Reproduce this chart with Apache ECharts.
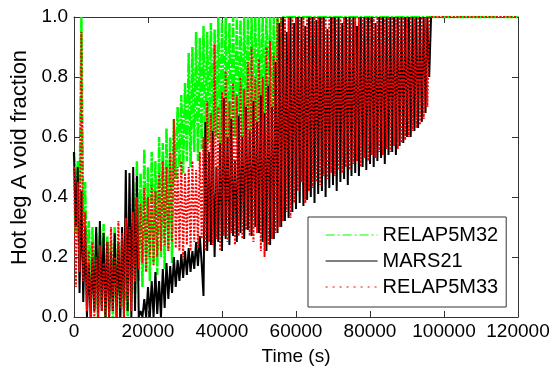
<!DOCTYPE html>
<html>
<head>
<meta charset="utf-8">
<script src="https://cdn.jsdelivr.net/npm/echarts@6/dist/echarts.min.js"></script>
<style>
html,body{margin:0;padding:0;background:#fff;}
#chart{width:554px;height:381px;}
</style>
</head>
<body>
<div id="chart"></div>
<script>
// Sample times (s)
const sampleTimes = [
0,500,1000,1500,2000,2500,3000,3500,4000,4500,
5000,5500,6000,6500,7000,7500,8000,8500,9000,9500,
10000,10500,11000,11500,12000,12500,13000,13500,14000,14500,
15000,15500,16000,16500,17000,17500,18000,18500,19000,19500,
20000,20500,21000,21500,22000,22500,23000,23500,24000,24500,
25000,25500,26000,26500,27000,27500,28000,28500,29000,29500,
30000,30500,31000,31500,32000,32500,33000,33500,34000,34500,
35000,35500,36000,36500,37000,37500,38000,38500,39000,39500,
40000,40500,41000,41500,42000,42500,43000,43500,44000,44500,
45000,45500,46000,46500,47000,47500,48000,48500,49000,49500,
50000,50500,51000,51500,52000,52500,53000,53500,54000,54500,
55000,55500,56000,56500,57000,57500,58000,58500,59000,59500,
60000,60500,61000,61500,62000,62500,63000,63500,64000,64500,
65000,65500,66000,66500,67000,67500,68000,68500,69000,69500,
70000,70500,71000,71500,72000,72500,73000,73500,74000,74500,
75000,75500,76000,76500,77000,77500,78000,78500,79000,79500,
80000,80500,81000,81500,82000,82500,83000,83500,84000,84500,
85000,85500,86000,86500,87000,87500,88000,88500,89000,89500,
90000,90500,91000,91500,92000,92500,93000,93500,94000,94500,
95000,95500,96000
];

// RELAP5M32 void fraction
const relap32Values = [
0.55,0.28,0.52,0.35,1.0,0.3,0.45,0.12,0.32,0.05,
0.3,0.02,0.28,0.0,0.3,0.04,0.31,0.0,0.27,0.02,
0.25,0.0,0.3,0.05,0.22,0.0,0.26,0.03,0.2,0.0,
0.28,0.05,0.45,0.08,0.52,0.12,0.48,0.1,0.56,0.15,
0.5,0.12,0.55,0.18,0.52,0.14,0.6,0.2,0.58,0.16,
0.63,0.22,0.6,0.18,0.66,0.46,0.7,0.5,0.74,0.48,
0.78,0.52,0.88,0.5,0.9,0.55,0.95,0.52,0.93,0.56,
0.97,0.54,0.95,0.58,0.98,0.55,0.96,0.6,1.0,0.57,
0.99,0.6,1.0,0.58,0.98,0.62,1.0,0.6,1.0,0.63,
0.99,0.6,1.0,0.65,1.0,0.62,1.0,0.66,1.0,0.64,
1.0,0.68,1.0,0.66,1.0,0.7,1.0,0.68,1.0,0.72,
1.0,0.75,1.0,1.0
];
const relap32TailTimes = [120000];
const relap32TailValues = [1.0];

// MARS21 void fraction
const mars21Values = [
0.55,0.3,0.5,0.08,0.42,0.05,0.3,0.0,0.18,0.0,
0.2,0.02,0.3,0.0,0.32,0.02,0.28,0.0,0.25,0.0,
0.22,0.02,0.28,0.0,0.25,0.0,0.3,0.0,0.49,0.02,
0.48,0.0,0.5,0.02,0.47,0.0,0.02,0.0,0.06,0.0,
0.1,0.0,0.12,0.0,0.15,0.01,0.12,0.0,0.16,0.03,
0.18,0.06,0.17,0.08,0.2,0.1,0.19,0.12,0.21,0.13,
0.22,0.14,0.23,0.15,0.22,0.16,0.25,0.17,0.27,0.18,
0.07,0.65,0.22,0.55,0.24,0.62,0.2,0.5,0.25,0.58,
0.22,0.73,0.26,0.6,0.24,0.66,0.27,0.52,0.25,0.67,
0.28,0.6,0.26,0.7,0.29,0.62,0.27,0.72,0.3,0.65,
0.28,0.74,0.25,0.68,0.22,0.77,0.24,0.7,0.26,0.85,
0.28,0.98,0.3,1.0,0.32,0.95,0.33,1.0,0.35,0.98,
0.36,1.0,0.38,1.0,0.37,0.97,0.39,1.0,0.4,1.0,
0.38,0.99,0.41,1.0,0.42,1.0,0.4,0.96,0.43,1.0,
0.44,1.0,0.42,1.0,0.45,0.98,0.46,1.0,0.44,1.0,
0.47,1.0,0.48,0.97,0.47,1.0,0.5,1.0,0.49,1.0,
0.51,1.0,0.5,0.98,0.52,1.0,0.53,1.0,0.51,1.0,
0.54,1.0,0.55,1.0,0.54,1.0,0.57,1.0,0.58,1.0,
0.6,1.0,0.6,1.0,0.62,1.0,0.63,1.0,0.65,1.0,
0.68,1.0,0.8
];
const mars21TailTimes = [96500];
const mars21TailValues = [1.0];

// RELAP5M33 void fraction
const relap33Values = [
0.5,0.1,0.45,0.15,0.95,0.12,0.35,0.02,0.22,0.0,
0.25,0.0,0.2,0.0,0.24,0.02,0.18,0.0,0.25,0.0,
0.3,0.02,0.2,0.0,0.32,0.03,0.28,0.0,0.33,0.05,
0.3,0.02,0.35,0.12,0.4,0.16,0.38,0.18,0.43,0.15,
0.4,0.2,0.44,0.17,0.42,0.2,0.48,0.22,0.52,0.24,
0.5,0.22,0.55,0.25,0.66,0.23,0.5,0.22,0.52,0.2,
0.48,0.24,0.5,0.22,0.52,0.25,0.49,0.23,0.55,0.26,
0.6,0.22,0.72,0.25,0.68,0.24,0.91,0.26,0.7,0.22,
0.75,0.27,0.82,0.25,0.72,0.28,0.78,0.24,0.74,0.27,
0.8,0.26,0.76,0.29,0.85,0.27,0.9,0.25,0.8,0.28,
0.86,0.22,0.8,0.2,0.9,0.24,0.92,0.26,0.88,0.28,
1.0,0.3,1.0,0.32,1.0,0.35,1.0,0.33,1.0,0.38,
1.0,0.42,1.0,0.45,1.0,0.38,1.0,0.42,1.0,0.43,
1.0,0.45,1.0,0.44,1.0,0.47,1.0,0.46,1.0,0.48,
1.0,0.47,1.0,0.49,1.0,0.48,1.0,0.5,1.0,0.49,
1.0,0.51,1.0,0.52,1.0,0.5,1.0,0.53,1.0,0.52,
1.0,0.54,1.0,0.53,1.0,0.55,1.0,0.54,1.0,0.56,
1.0,0.55,1.0,0.57,1.0,0.56,1.0,0.58,1.0,0.59,
1.0,0.6,1.0,0.62,1.0,0.63,1.0,0.64,1.0,0.66,
1.0,0.7,1.0
];
const relap33TailTimes = [120000];
const relap33TailValues = [1.0];

const seriesNames = ['RELAP5M32', 'MARS21', 'RELAP5M33'];
const xTicks = [0, 20000, 40000, 60000, 80000, 100000, 120000];
const yTicks = [0.0, 0.2, 0.4, 0.6, 0.8, 1.0];

function pairs(vals, tailT, tailV) {
  const out = vals.map((v, i) => [sampleTimes[i], v]);
  tailT.forEach((t, j) => out.push([t, tailV[j]]));
  return out;
}

const FONT = 'Liberation Sans, Arial, Helvetica, sans-serif';
const chart = echarts.init(document.getElementById('chart'), null, {renderer: 'canvas'});

const axisLineStyle = {color: '#333', width: 1};
function xAx(pos, showLabels) {
  return {
    type: 'value', position: pos,
    min: xTicks[0], max: xTicks[xTicks.length - 1], interval: xTicks[1] - xTicks[0],
    axisLine: {show: true, onZero: false, lineStyle: axisLineStyle},
    axisTick: {show: true, inside: true, length: 6, lineStyle: axisLineStyle},
    axisLabel: {show: showLabels, fontSize: 19, color: '#000', fontFamily: FONT, margin: 5,
      formatter: v => String(v)},
    splitLine: {show: false},
    name: showLabels ? 'Time (s)' : '',
    nameLocation: 'middle', nameGap: 30,
    nameTextStyle: {fontSize: 19, color: '#000', fontFamily: FONT}
  };
}
function yAx(pos, showLabels) {
  return {
    type: 'value', position: pos,
    min: yTicks[0], max: yTicks[yTicks.length - 1], interval: 0.2,
    axisLine: {show: true, onZero: false, lineStyle: axisLineStyle},
    axisTick: {show: true, inside: true, length: 6, lineStyle: axisLineStyle},
    axisLabel: {show: showLabels, fontSize: 19, color: '#000', fontFamily: FONT, margin: 6,
      formatter: v => v.toFixed(1)},
    splitLine: {show: false},
    name: showLabels ? 'Hot leg A void fraction' : '',
    nameLocation: 'middle', nameGap: 43, nameRotate: 90,
    nameTextStyle: {fontSize: 22, color: '#000', fontFamily: FONT, padding: [0, 0, 0, 19]}
  };
}

chart.setOption({
  animation: false,
  backgroundColor: '#fff',
  grid: {left: 74, right: 36, top: 17, bottom: 64, containLabel: false},
  xAxis: [xAx('bottom', true), xAx('top', false)],
  yAxis: [yAx('left', true), yAx('right', false)],
  legend: {
    orient: 'vertical', left: 308, top: 217,
    itemWidth: 52, itemHeight: 20, itemGap: 6,
    padding: [8, 8, 10, 17],
    borderColor: '#333', borderWidth: 1, backgroundColor: '#fff',
    itemStyle: {opacity: 0},
    lineStyle: {width: 1.2},
    textStyle: {fontSize: 20, color: '#000', fontFamily: FONT},
    data: [
      {name: seriesNames[0], lineStyle: {width: 1.2, type: [9, 3, 2, 3]}},
      {name: seriesNames[1], lineStyle: {width: 1.2, type: 'solid'}},
      {name: seriesNames[2], lineStyle: {width: 1.2, type: [2, 5]}}
    ]
  },
  series: [
    {name: seriesNames[0], type: 'line', symbol: 'none', showSymbol: false,
     data: pairs(relap32Values, relap32TailTimes, relap32TailValues),
     lineStyle: {color: '#00ff00', width: 2.5, type: [10, 1.5, 2.5, 1.5]}, itemStyle: {color: '#00ff00'}},
    {name: seriesNames[1], type: 'line', symbol: 'none', showSymbol: false,
     data: pairs(mars21Values, mars21TailTimes, mars21TailValues),
     lineStyle: {color: '#000000', width: 2, type: 'solid'}, itemStyle: {color: '#000000'}},
    {name: seriesNames[2], type: 'line', symbol: 'none', showSymbol: false,
     data: pairs(relap33Values, relap33TailTimes, relap33TailValues),
     lineStyle: {color: '#ff0000', width: 2, type: [2, 1.6]}, itemStyle: {color: '#ff0000'}}
  ]
});
</script>
</body>
</html>
